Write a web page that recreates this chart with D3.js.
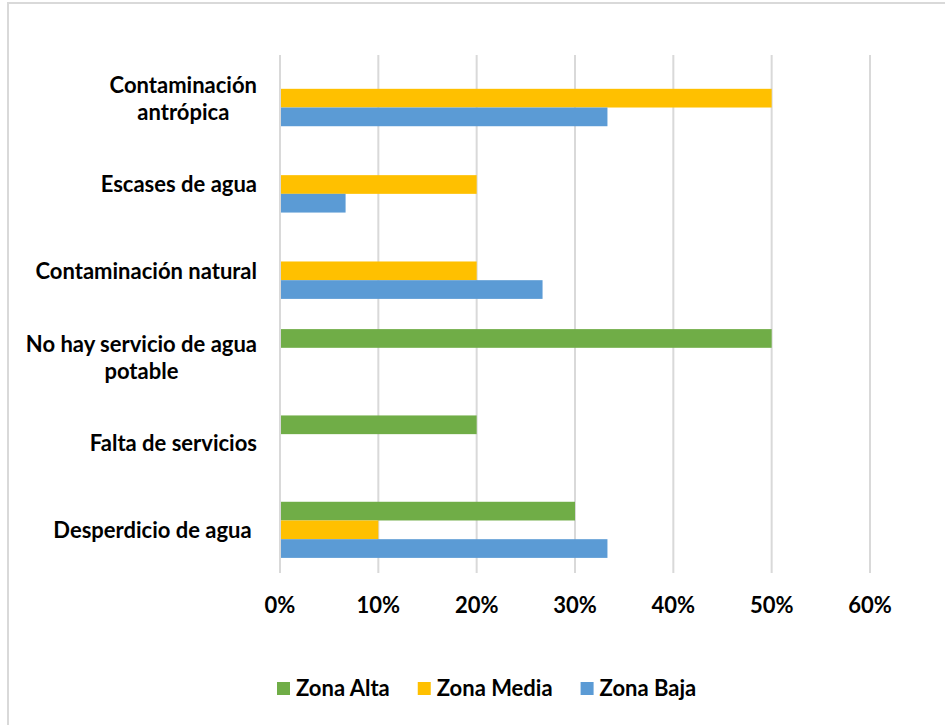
<!DOCTYPE html>
<html>
<head>
    <meta charset="utf-8">
    <title>Problemas del agua por zona</title>
    <script src="https://d3js.org/d3.v7.min.js"></script>
    <style>
        body {
            margin: 0;
            background: #fff;
        }
        svg text {
            font-family: Lato, 'Open Sans', sans-serif;
            font-weight: 700;
            fill: #000;
            white-space: pre;
        }
    </style>
</head>
<body>
    <div class="svg-container"></div>
    <script>
        // data
        const categories = [
            ['Contaminación', 'antrópica'],
            ['Escases de agua'],
            ['Contaminación natural'],
            ['No hay servicio de agua', 'potable'],
            ['Falta de servicios'],
            ['Desperdicio de agua ']
        ]
        const series = ['Zona Alta', 'Zona Media', 'Zona Baja']
        const colors = ['#70AD47', '#FFC000', '#5B9BD5']
        // null = no bar
        const zonaAlta = [null, null, null, 0.50, 0.20, 0.30]
        const zonaMedia = [0.50, 0.20, 0.20, null, null, 0.10]
        const zonaBaja = [0.333, 0.0667, 0.267, null, null, 0.333]
        const ticks = [0, 0.1, 0.2, 0.3, 0.4, 0.5, 0.6]

        const w = 945
        const h = 725
        const plot = { top: 55, bottom: 573, left: 280, right: 870 }
        const fontSize = 22

        const values = [zonaAlta, zonaMedia, zonaBaja]
        const keys = categories.map(c => c.join(' '))

        const svg = d3.select('.svg-container')
            .append('svg')
            .attr('width', w)
            .attr('height', h)

        // outer frame
        svg.append('rect')
            .attr('x', 8)
            .attr('y', 3)
            .attr('width', w)
            .attr('height', h + 10)
            .attr('fill', 'none')
            .attr('stroke', '#d9d9d9')
            .attr('stroke-width', 2)

        const x = d3.scaleLinear()
            .domain([0, 0.6])
            .range([plot.left, plot.right])

        const y = d3.scaleBand()
            .domain(keys)
            .range([plot.top, plot.bottom])
            .paddingInner(0.35)
            .paddingOuter(0.175)

        const ySub = d3.scaleBand()
            .domain(series)
            .range([0, y.bandwidth()])

        // gridlines
        svg.append('g')
            .selectAll('line')
            .data(ticks)
            .enter()
            .append('line')
            .attr('x1', d => x(d))
            .attr('x2', d => x(d))
            .attr('y1', plot.top)
            .attr('y2', plot.bottom)
            .attr('stroke', '#d9d9d9')
            .attr('stroke-width', 2)

        // bars
        const bars = []
        keys.forEach((k, i) => {
            series.forEach((s, j) => {
                if (values[j][i] != null) bars.push({ key: k, serie: s, value: values[j][i], color: colors[j] })
            })
        })

        svg.append('g')
            .selectAll('rect')
            .data(bars)
            .enter()
            .append('rect')
            .attr('x', x(0) + 1)
            .attr('y', d => y(d.key) + ySub(d.serie))
            .attr('width', d => x(d.value) - x(0) - 1)
            .attr('height', ySub.bandwidth())
            .attr('fill', d => d.color)

        // x tick labels
        svg.append('g')
            .selectAll('text')
            .data(ticks)
            .enter()
            .append('text')
            .attr('x', d => x(d))
            .attr('y', 613)
            .attr('text-anchor', 'middle')
            .style('font-size', fontSize + 'px')
            .text(d3.format('.0%'))

        // category labels, right edge at 257, multi-line ones centred as a block
        const labelRight = 257
        const lineH = 27
        const labels = svg.append('g')
        categories.forEach((lines, i) => {
            const cy = y(keys[i]) + y.bandwidth() / 2
            const t = labels.append('text')
                .style('font-size', fontSize + 'px')
            const spans = lines.map((line, li) => t.append('tspan')
                .attr('y', cy + fontSize * 0.36 + (li - (lines.length - 1) / 2) * lineH)
                .text(line))
            if (lines.length === 1) {
                t.attr('text-anchor', 'end')
                spans[0].attr('x', labelRight)
            } else {
                const maxW = d3.max(spans, s => s.node().getComputedTextLength())
                t.attr('text-anchor', 'middle')
                spans.forEach(s => s.attr('x', labelRight - maxW / 2))
            }
        })

        // legend
        const legend = svg.append('g')
        let lx = 277
        series.forEach((s, j) => {
            legend.append('rect')
                .attr('x', lx)
                .attr('y', 682)
                .attr('width', 13)
                .attr('height', 13)
                .attr('fill', colors[j])
            const t = legend.append('text')
                .attr('x', lx + 19)
                .attr('y', 696)
                .style('font-size', fontSize + 'px')
                .text(s)
            lx += 19 + t.node().getComputedTextLength() + 28
        })
    </script>
</body>
</html>
